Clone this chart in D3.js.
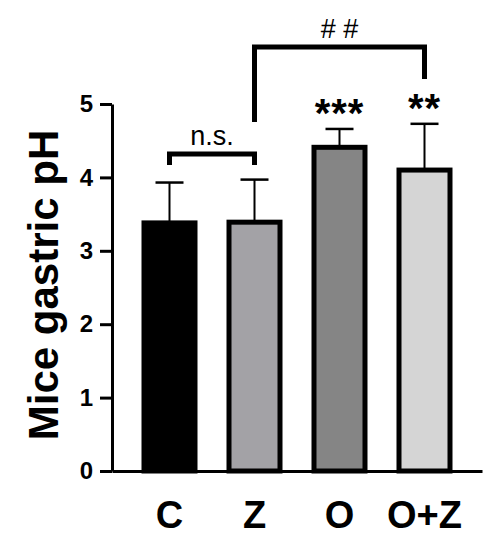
<!DOCTYPE html>
<html>
<head>
<meta charset="utf-8">
<script src="https://cdn.jsdelivr.net/npm/d3@7"></script>
<style>
  body { margin: 0; background: #fff; }
  text { font-family: "Liberation Sans", Arial, sans-serif; }
</style>
</head>
<body>
<div id="chart"></div>
<script>
var groups = ["C", "Z", "O", "O+Z"];
var means = [3.38, 3.39, 4.41, 4.10];
var sds = [0.55, 0.58, 0.25, 0.63];
var fills = ["#000000", "#a3a2a6", "#858585", "#d5d5d5"];
var yTicks = [0, 1, 2, 3, 4, 5];
var stars = ["", "", "***", "**"];

var svg = d3.select("#chart").append("svg")
    .attr("width", 498)
    .attr("height", 550);

var x = d3.scaleBand()
    .domain(groups)
    .range([112, 482])
    .paddingInner(0.4)
    .paddingOuter(0.3765);

var y = d3.scaleLinear()
    .domain([0, 5])
    .range([471, 104]);

// error bars (upper only), drawn under the bars
var err = svg.append("g").attr("class", "errors");
groups.forEach(function (g, i) {
    var cx = x(g) + x.bandwidth() / 2;
    err.append("line")
        .attr("x1", cx).attr("x2", cx)
        .attr("y1", y(means[i])).attr("y2", y(means[i] + sds[i]))
        .attr("stroke", "#000").attr("stroke-width", 2);
    err.append("line")
        .attr("x1", cx - 14).attr("x2", cx + 14)
        .attr("y1", y(means[i] + sds[i])).attr("y2", y(means[i] + sds[i]))
        .attr("stroke", "#000").attr("stroke-width", 2.5);
});

svg.append("g").selectAll("rect")
    .data(groups)
    .enter().append("rect")
    .attr("x", function (d) { return x(d); })
    .attr("y", function (d, i) { return y(means[i]); })
    .attr("width", x.bandwidth())
    .attr("height", function (d, i) { return y(0) - y(means[i]); })
    .attr("fill", function (d, i) { return fills[i]; })
    .attr("stroke", "#000")
    .attr("stroke-width", 5);

// y axis
var yAxis = svg.append("g")
    .attr("transform", "translate(112,0)")
    .call(d3.axisLeft(y).tickValues(yTicks).tickSize(12).tickSizeOuter(0).tickPadding(7).tickFormat(d3.format("d")));
yAxis.select(".domain").attr("stroke-width", 3);
yAxis.selectAll(".tick line").attr("stroke-width", 3);
yAxis.selectAll(".tick text")
    .attr("font-size", 24)
    .attr("font-weight", "bold")
    .attr("font-family", "Liberation Sans, Arial, sans-serif")
    .attr("fill", "#000");

// x axis
var xAxis = svg.append("g")
    .attr("transform", "translate(0," + y(0) + ")")
    .call(d3.axisBottom(x).tickSize(0).tickSizeOuter(0));
xAxis.select(".domain").attr("stroke-width", 3);
xAxis.selectAll(".tick text")
    .attr("y", 57)
    .attr("dy", 0)
    .attr("font-size", 38)
    .attr("font-weight", "bold")
    .attr("font-family", "Liberation Sans, Arial, sans-serif")
    .attr("fill", "#000");

svg.append("text")
    .attr("transform", "translate(58,285) rotate(-90)")
    .attr("text-anchor", "middle")
    .attr("font-size", 42)
    .attr("font-weight", "bold")
    .text("Mice gastric pH");

// significance stars
groups.forEach(function (g, i) {
    if (!stars[i]) return;
    svg.append("text")
        .attr("x", x(g) + x.bandwidth() / 2)
        .attr("y", y(means[i] + sds[i]) - 2)
        .attr("text-anchor", "middle")
        .attr("font-size", 40)
        .attr("font-weight", "bold")
        .attr("letter-spacing", 1)
        .text(stars[i]);
});

function bracket(a, b, top, leftBottom, rightBottom, label, size) {
    var xa = x(a) + x.bandwidth() / 2, xb = x(b) + x.bandwidth() / 2;
    svg.append("path")
        .attr("d", "M" + xa + "," + leftBottom + "V" + top + "H" + xb + "V" + rightBottom)
        .attr("fill", "none")
        .attr("stroke", "#000")
        .attr("stroke-width", 5);
    svg.append("text")
        .attr("x", (xa + xb) / 2)
        .attr("y", top - 9)
        .attr("text-anchor", "middle")
        .attr("font-size", size)
        .text(label);
}

bracket("C", "Z", 154, 165, 165, "n.s.", 27);
bracket("Z", "O+Z", 47, 122, 79, "# #", 27);
</script>
</body>
</html>
